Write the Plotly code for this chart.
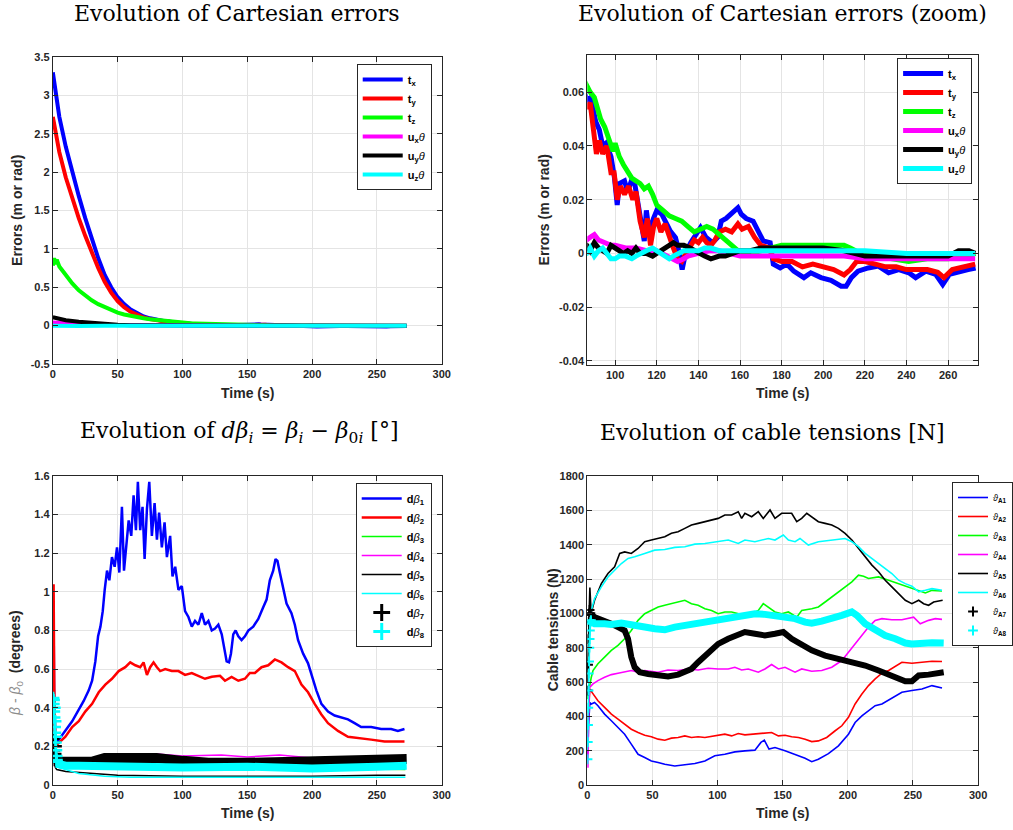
import plotly.graph_objects as go

# ---------------- data: Cartesian errors ----------------
TX_T = [0, 5, 10, 15, 20, 25, 30, 35, 40, 45, 50, 55, 60, 65, 70, 75, 80, 84,
        86.3, 88.3, 89.9, 90.7, 92.4, 94, 95.6, 97.2, 98, 99.7, 101, 102, 104.5, 106, 107.8, 109.4, 111,
        112.7, 114, 115, 116.4, 118.4, 120, 122.4, 124, 126.5, 129, 130.6, 132.2, 133.8, 136.3, 138.7,
        141, 143.6, 146.8, 149.3, 151, 153.3, 155.8, 159, 160.6, 163, 166.3, 168.8, 171.2, 174.5, 176,
        179.3, 182.6, 185.8, 190.7, 194, 198.9, 203.7, 208.6, 211, 213.5, 216.7, 221.6, 226.5, 231.4,
        236.3, 241.1, 244.4, 249.3, 254, 257.4, 260.6, 265.5, 269.6, 273.2]
TX_V = [3.30, 2.72, 2.33, 1.99, 1.69, 1.40, 1.12, 0.88, 0.66, 0.50, 0.37, 0.28, 0.21, 0.16, 0.12, 0.095, 0.075, 0.063,
        0.057, 0.058, 0.051, 0.049, 0.046, 0.040, 0.041, 0.038, 0.036, 0.028, 0.018, 0.026, 0.027, 0.023, 0.027,
        0.026, 0.018, 0.0096, 0.0046, 0.016, 0.0077, 0.013, 0.016, 0.0146, 0.012, 0.0083, 0.0059, 0.001, -0.006,
        0.0, 0.004, 0.0065, 0.0096, 0.006, 0.004, 0.006, 0.012, 0.013, 0.0146, 0.017, 0.0146, 0.013, 0.012,
        0.0083, 0.0046, 0.004, -0.004, -0.0054, -0.004, -0.0066, -0.009, -0.0072, -0.009, -0.010, -0.0122,
        -0.0122, -0.009, -0.0066, -0.0054, -0.0047, -0.0072, -0.006, -0.0072, -0.009, -0.0066, -0.0078,
        -0.0116, -0.0078, -0.0066, -0.006, -0.0054]

TY_T = [0, 5, 10, 15, 20, 25, 30, 35, 40, 45, 50, 55, 60, 65, 70, 75, 80, 84,
        86.3, 88, 89.5, 91, 92.4, 94, 96, 98, 99.5, 101, 102.5, 104.5, 106.5, 108.5, 110, 112, 114, 115.5,
        117, 118.5, 120, 122, 124, 126, 128, 130, 132, 134, 136, 138, 140, 142, 144, 146, 148, 150, 153,
        156, 159, 161, 164, 167, 170, 174, 176, 180, 185, 190, 195, 200, 205, 210, 213, 216, 220, 225, 230,
        235, 240, 245, 250, 255, 258, 262, 268, 273]
TY_V = [2.72, 2.26, 1.93, 1.65, 1.40, 1.17, 0.95, 0.75, 0.57, 0.43, 0.32, 0.24, 0.18, 0.14, 0.105, 0.085, 0.068, 0.058,
        0.054, 0.056, 0.047, 0.037, 0.042, 0.037, 0.040, 0.030, 0.030, 0.020, 0.025, 0.022, 0.025, 0.020, 0.023,
        0.012, 0.006, 0.013, 0.003, 0.010, 0.013, 0.008, 0.011, 0.006, 0.002, -0.002, -0.003, 0.0, 0.003, 0.005,
        0.004, 0.006, 0.004, 0.003, 0.005, 0.008, 0.009, 0.008, 0.011, 0.009, 0.010, 0.006, 0.003, 0.002, -0.002,
        -0.003, -0.003, -0.005, -0.004, -0.005, -0.006, -0.008, -0.006, -0.003, -0.003, -0.004, -0.005, -0.005,
        -0.006, -0.006, -0.006, -0.007, -0.009, -0.006, -0.005, -0.004]

TZ_T = [0, 1, 2, 3, 5, 10, 15, 20, 25, 30, 35, 40, 45, 50, 55, 60, 65, 70, 75, 80, 84,
        86.3, 88, 90, 91.5, 93, 95, 97, 99, 100, 102, 104, 106, 108, 110, 112, 114, 116, 118, 120, 123, 126,
        129, 132, 135, 138, 141, 144, 147, 150, 153, 156, 159, 162, 165, 170, 175, 180, 190, 200, 205, 210,
        213, 218, 225, 235, 241, 250, 260, 270, 273]
TZ_V = [0.78, 0.88, 0.80, 0.86, 0.77, 0.65, 0.55, 0.46, 0.39, 0.33, 0.28, 0.24, 0.20, 0.17, 0.145, 0.125, 0.11, 0.095,
        0.082, 0.072, 0.066,
        0.062, 0.060, 0.058, 0.054, 0.050, 0.047, 0.043, 0.038, 0.041, 0.036, 0.033, 0.030, 0.028, 0.027, 0.026,
        0.024, 0.025, 0.022, 0.018, 0.016, 0.014, 0.013, 0.012, 0.010, 0.008, 0.009, 0.010, 0.009, 0.007, 0.005,
        0.003, 0.001, 0.000, 0.000, 0.001, 0.002, 0.003, 0.003, 0.003, 0.003, 0.003, 0.002, 0.000, -0.001, -0.002,
        -0.003, -0.002, -0.002, -0.001, 0.000]

UX_T = [0, 10, 20, 30, 40, 50, 60, 70, 80, 86.3, 88, 90, 92, 95, 98, 100, 105, 110, 115, 120, 125, 128, 130, 133,
        135, 140, 145, 150, 155, 160, 170, 180, 190, 200, 210, 220, 230, 240, 250, 260, 273]
UX_V = [0.04, 0.03, 0.02, 0.015, 0.01, 0.008, 0.006, 0.005, 0.005, 0.005, 0.006, 0.007, 0.005, 0.004, 0.003, 0.003,
        0.002, 0.002, 0.001, 0.001, -0.001, -0.002, -0.003, -0.002, -0.001, 0.000, 0.001, 0.001, 0.000, -0.001,
        -0.001, -0.001, -0.001, -0.001, -0.001, -0.002, -0.002, -0.002, -0.002, -0.002, -0.002]

UY_T = [0, 2, 5, 10, 20, 30, 40, 50, 60, 70, 80, 86.3, 88, 90, 92, 94, 96, 98, 100, 102, 104, 106, 108, 110, 112,
        115, 118, 120, 122, 125, 128, 130, 133, 136, 138, 140, 143, 146, 150, 153, 156, 160, 165, 170, 180, 190,
        200, 210, 215, 220, 230, 240, 250, 260, 265, 270, 273]
UY_V = [0.11, 0.10, 0.09, 0.07, 0.05, 0.035, 0.02, 0.01, 0.006, 0.004, 0.003, 0.003, 0.001, 0.004, 0.002, 0.001,
        0.000, 0.003, 0.002, 0.001, 0.000, 0.001, 0.000, 0.002, 0.000, 0.000, -0.001, 0.000, 0.001, 0.003, 0.004,
        0.003, 0.003, 0.002, 0.001, 0.000, -0.001, -0.002, -0.001, -0.001, 0.000, 0.001, 0.001, 0.002, 0.002,
        0.002, 0.002, 0.001, 0.000, -0.001, -0.001, -0.001, -0.001, -0.001, 0.001, 0.001, 0.000]

UZ_T = [0, 10, 20, 40, 60, 80, 86.3, 88, 90, 92, 94, 96, 98, 100, 102, 105, 108, 110, 112, 115, 118, 120, 122, 124,
        126, 128, 130, 133, 136, 140, 143, 146, 150, 160, 180, 200, 220, 240, 260, 273]
UZ_V = [0.0, -0.005, -0.005, -0.003, -0.002, -0.001, 0.000, 0.002, -0.001, 0.001, 0.002, 0.000, -0.002, -0.002,
        -0.001, -0.001, -0.002, -0.001, 0.000, 0.001, 0.002, 0.001, 0.000, -0.001, -0.002, -0.001, 0.000, 0.001,
        0.001, 0.001, 0.002, 0.002, 0.001, 0.001, 0.001, 0.001, 0.001, 0.000, 0.000, 0.000]

# ---------------- data: d beta ----------------
B1_T = [0, 0.3, 0.6, 0.9, 1.3, 2.0, 4.6, 9.7, 14.9, 20, 23.8, 27.7, 30.3, 32.8, 34.9, 36.7, 38.5, 40, 41.8, 43.6,
        45.6, 47.7, 49.5, 51.3, 53.3, 54.9, 56.4, 58.5, 60.5, 62.3, 64.1, 65.6, 67.4, 69.2, 70.8, 72.6, 74.4,
        76.4, 78.5, 80.3, 82, 84.1, 86.2, 88, 90.5, 92.3, 94.4, 96.9, 99.5, 102, 104.6, 107.2, 109.7, 112.3,
        114.9, 117.4, 120, 122.6, 125.1, 127.7, 130.3, 132.3, 134.1, 135.9, 137.4, 139.2, 141, 143.1, 145.6,
        148.2, 150.8, 154.6, 158.5, 162.3, 164.9, 167.4, 170, 171.8, 173.3, 175.1, 177.7, 180.3, 184.1, 186.7,
        189.2, 193.1, 196.9, 199.5, 203.3, 207.2, 212.3, 217.4, 222.6, 227.7, 232.8, 237.9, 245.6, 253.3, 261,
        266.2, 271.3]
B1_V = [0.15, 0.5, 0.88, 0.5, 0.3, 0.22, 0.235, 0.28, 0.33, 0.39, 0.435, 0.49, 0.54, 0.64, 0.77, 0.82, 0.90, 1.01,
        1.11, 1.06, 1.18, 1.13, 1.23, 1.10, 1.44, 1.11, 1.23, 1.37, 1.29, 1.50, 1.32, 1.57, 1.32, 1.44, 1.17, 1.43,
        1.57, 1.29, 1.46, 1.27, 1.41, 1.23, 1.36, 1.18, 1.29, 1.08, 1.13, 1.01, 1.03, 0.90, 0.87, 0.82, 0.85, 0.83,
        0.89, 0.83, 0.85, 0.80, 0.81, 0.83, 0.78, 0.70, 0.64, 0.635, 0.68, 0.78, 0.80, 0.77, 0.75, 0.77, 0.80,
        0.82, 0.86, 0.92, 0.96, 1.06, 1.11, 1.17, 1.16, 1.10, 1.01, 0.94, 0.89, 0.83, 0.75, 0.68, 0.63, 0.57,
        0.49, 0.42, 0.38, 0.36, 0.35, 0.34, 0.32, 0.30, 0.30, 0.29, 0.29, 0.28, 0.29]

B2_T = [0, 0.3, 0.6, 0.9, 1.2, 1.6, 2.0, 3.3, 9.7, 14.9, 20, 25, 30.3, 35.4, 40.5, 45.6, 50.8, 55.9, 59.7, 63.6,
        67.4, 70, 72.6, 75.1, 77.7, 80.3, 82.8, 86.7, 91.8, 96.9, 102, 107.2, 112.3, 117.4, 122.6, 129, 132.8,
        137.9, 143.1, 148.2, 152, 155.9, 161, 166.2, 171.3, 176.4, 181.5, 186.7, 191.8, 196.9, 202, 207.2,
        212.3, 220, 227.7, 235.4, 245.6, 255.9, 263.6, 271.3]
B2_V = [0.15, 0.6, 1.04, 0.7, 0.45, 0.3, 0.22, 0.21, 0.25, 0.30, 0.33, 0.38, 0.42, 0.48, 0.52, 0.55, 0.59, 0.61,
        0.635, 0.62, 0.61, 0.635, 0.57, 0.61, 0.635, 0.61, 0.59, 0.60, 0.59, 0.59, 0.57, 0.58, 0.565, 0.55, 0.56,
        0.565, 0.54, 0.56, 0.54, 0.55, 0.58, 0.58, 0.61, 0.62, 0.65, 0.635, 0.61, 0.59, 0.52, 0.48, 0.42, 0.365,
        0.32, 0.28, 0.25, 0.245, 0.235, 0.225, 0.225, 0.225]

B3_T = [0, 1, 2, 3, 10, 30, 60, 100, 150, 200, 250, 272]
B3_V = [0.2, 0.18, 0.15, 0.13, 0.11, 0.10, 0.095, 0.09, 0.09, 0.085, 0.08, 0.08]
B4_T = [0, 1, 2, 3, 10, 30, 50, 60, 80, 100, 130, 150, 175, 200, 230, 272]
B4_V = [0.2, 0.18, 0.16, 0.14, 0.14, 0.14, 0.15, 0.16, 0.16, 0.15, 0.155, 0.145, 0.155, 0.14, 0.14, 0.14]
B5_T = [0, 1, 2, 3, 10, 20, 30, 50, 100, 150, 200, 250, 272]
B5_V = [0.2, 0.12, 0.09, 0.08, 0.07, 0.065, 0.058, 0.05, 0.045, 0.045, 0.045, 0.05, 0.05]
B6_T = [0, 1, 2, 5, 20, 40, 60, 100, 200, 272]
B6_V = [0.2, 0.14, 0.11, 0.09, 0.06, 0.045, 0.04, 0.04, 0.04, 0.04]
B7_T = [3, 20, 30, 40, 60, 80, 100, 120, 150, 180, 200, 230, 250, 273]
B7_V = [0.12, 0.115, 0.12, 0.14, 0.14, 0.14, 0.125, 0.115, 0.115, 0.12, 0.125, 0.13, 0.135, 0.135]
B7_START_T = [0.3, 0.6, 0.9, 1.2, 1.5, 1.8, 2.1, 2.4, 2.7]
B7_START_V = [0.24, 0.22, 0.18, 0.15, 0.13, 0.16, 0.20, 0.14, 0.12]
B8_T = [3, 10, 20, 50, 100, 150, 200, 250, 273]
B8_V = [0.11, 0.10, 0.10, 0.095, 0.09, 0.095, 0.085, 0.095, 0.10]
B8_START_T = [0.2, 0.4, 0.6, 0.8, 1.0, 1.2, 1.4, 1.6, 1.8, 2.0, 2.2, 2.4, 2.6, 2.8, 3.0]
B8_START_V = [0.45, 0.42, 0.44, 0.38, 0.35, 0.40, 0.30, 0.27, 0.33, 0.22, 0.25, 0.18, 0.15, 0.13, 0.12]

# ---------------- data: cable tensions ----------------
A1_T = [0, 0.5, 1, 2, 3.1, 5.6, 8.2, 13.3, 18.5, 23.6, 28.7, 33.8, 39, 44.1, 49.2, 54.4, 59.5, 67.2, 74.9, 82.6,
        90.3, 97.9, 105.6, 113.3, 121, 128.7, 133.3, 135.9, 139.5, 144.1, 151.8, 159.5, 167.2, 172.3, 177.4,
        185.1, 192.8, 200.5, 205.6, 210.8, 215.9, 221, 226.2, 231.3, 236.4, 241.5, 249.2, 256.9, 264.6, 272.3]
A1_V = [150, 200, 350, 480, 472, 481, 462, 413, 374, 335, 296, 238, 179, 160, 140, 131, 121, 111, 117, 125, 140,
        170, 179, 193, 199, 203, 248, 261, 209, 218, 199, 179, 156, 136, 150, 183, 228, 296, 364, 403, 433, 462,
        472, 495, 520, 540, 550, 559, 579, 565]
A2_T = [0, 1, 2, 3.1, 4.4, 8.2, 13.3, 18.5, 23.6, 28.7, 33.8, 39, 44.1, 49.2, 54.4, 59.5, 64.6, 69.7, 74.9, 80,
        85.1, 90.3, 95.4, 100.5, 105.6, 110.8, 115.9, 121, 126.2, 131.3, 136.4, 141.5, 146.7, 151.8, 156.9,
        162.1, 167.2, 172.3, 177.4, 183.8, 190.3, 195.4, 200.5, 205.6, 210.8, 215.9, 221, 226.2, 231.3, 236.4,
        241.5, 249.2, 256.9, 264.6, 272.3]
A2_V = [300, 450, 560, 545, 530, 491, 452, 413, 384, 355, 325, 306, 290, 281, 267, 261, 273, 277, 286, 277, 281,
        277, 283, 286, 296, 286, 300, 292, 296, 300, 304, 306, 286, 290, 281, 277, 267, 253, 257, 277, 316, 345,
        394, 472, 530, 579, 618, 651, 667, 690, 715, 709, 715, 721, 719]
A3_T = [0, 1, 2, 3.1, 4.4, 8.2, 13.3, 18.5, 23.6, 28.7, 33.8, 39, 44.1, 49.2, 54.4, 59.5, 64.6, 69.7, 74.9, 80,
        85.1, 90.3, 95.4, 100.5, 105.6, 110.8, 115.9, 121, 126.2, 131.3, 135.1, 139, 144.1, 149.2, 154.4, 160.8,
        164.6, 172.3, 177.4, 182.6, 187.7, 192.8, 197.9, 203.1, 208.2, 212.1, 215.9, 223.6, 231.3, 239, 246.7,
        254.4, 259.5, 264.6, 272.3]
A3_V = [500, 550, 600, 628, 667, 706, 745, 784, 813, 852, 900, 959, 998, 1017, 1037, 1047, 1056, 1066, 1076, 1056,
        1047, 1027, 1017, 998, 1008, 1008, 998, 988, 998, 1017, 1056, 1037, 1008, 998, 1008, 978, 1017, 1027,
        1037, 1066, 1095, 1125, 1154, 1183, 1222, 1216, 1203, 1212, 1193, 1173, 1154, 1134, 1119, 1134, 1130]
A4_T = [0, 0.5, 1, 1.8, 4.4, 8.2, 13.3, 18.5, 23.6, 28.7, 33.8, 39, 44.1, 54.4, 62, 69.7, 77.4, 85.1, 92.8, 100.5,
        108.2, 113.3, 118.5, 123.6, 131.3, 136.4, 141.5, 146.7, 151.8, 159.5, 164.6, 172.3, 180, 187.7, 195.4,
        200.5, 205.6, 210.8, 215.9, 221, 226.2, 233.8, 241.5, 250.5, 255.6, 262, 267.2, 272.3]
A4_V = [300, 100, 400, 569, 589, 608, 628, 643, 651, 657, 667, 657, 667, 657, 670, 667, 676, 670, 680, 676, 676,
        686, 670, 676, 657, 676, 702, 676, 686, 657, 676, 663, 667, 686, 725, 774, 822, 871, 920, 959, 969, 963,
        963, 978, 939, 959, 969, 965]
A5_T = [0, 1, 2, 3, 5.6, 10.8, 15.9, 21, 24.9, 28.7, 33.8, 39, 44.1, 49.2, 54.4, 59.5, 64.6, 69.7, 74.9, 80, 85.1,
        90.3, 95.4, 100.5, 105.6, 110.8, 115.9, 118.5, 121, 126.2, 131.3, 135.1, 140.3, 144.1, 149.2, 156.9,
        160.8, 164.6, 168.5, 172.3, 177.4, 182.6, 187.7, 192.8, 197.9, 203.1, 208.2, 213.3, 218.5, 223.6, 228.7,
        233.8, 239, 244.1, 249.2, 254.4, 258.2, 262, 265.9, 269.7, 272.8]
A5_V = [600, 900, 1150, 1000, 1076, 1173, 1232, 1271, 1349, 1358, 1349, 1378, 1417, 1427, 1436, 1446, 1466, 1475,
        1495, 1514, 1524, 1534, 1544, 1553, 1573, 1573, 1592, 1553, 1583, 1563, 1592, 1553, 1602, 1553, 1583,
        1583, 1534, 1553, 1583, 1563, 1534, 1524, 1514, 1495, 1466, 1427, 1378, 1329, 1281, 1242, 1193, 1154,
        1115, 1076, 1056, 1076, 1056, 1047, 1066, 1072, 1076]
A6_T = [0, 1, 2, 3.1, 5.6, 10.8, 15.9, 21, 26.2, 31.3, 36.4, 44.1, 51.8, 59.5, 67.2, 74.9, 82.6, 90.3, 100.5,
        108.2, 115.9, 121, 128.7, 135.1, 139, 144.1, 150.5, 154.4, 159.5, 163.3, 169.7, 177.4, 187.7, 197.9,
        203.1, 208.2, 213.3, 218.5, 223.6, 228.7, 233.8, 239, 244.1, 249.2, 254.4, 259.5, 264.6, 272.3]
A6_V = [200, 600, 900, 1017, 1086, 1154, 1212, 1251, 1290, 1320, 1329, 1349, 1368, 1372, 1384, 1388, 1403, 1407,
        1417, 1427, 1407, 1427, 1417, 1427, 1436, 1427, 1456, 1427, 1417, 1436, 1398, 1417, 1427, 1436, 1417,
        1388, 1349, 1320, 1290, 1261, 1232, 1193, 1173, 1158, 1125, 1134, 1144, 1134]
A7_T = [3, 5.6, 13.3, 18.5, 23.6, 28.7, 31.3, 33.8, 36.4, 40.3, 46.7, 54.4, 62, 69.7, 74.9, 80, 85.1, 90.3, 95.4,
        100.5, 108.2, 115.9, 121, 128.7, 136.4, 144.1, 150.5, 156.9, 164.6, 172.3, 182.6, 192.8, 203.1, 213.3,
        223.6, 233.8, 244.1, 249.2, 254.4, 262, 267.2, 273.6]
A7_V = [985, 978, 949, 939, 920, 900, 852, 745, 686, 657, 647, 643, 632, 643, 657, 676, 715, 754, 793, 822, 852,
        881, 891, 881, 871, 881, 891, 852, 813, 784, 754, 735, 715, 696, 667, 632, 604, 604, 638, 643, 651, 657]
A7_START_T = [0.3, 0.6, 0.9, 1.2, 1.5, 1.8, 2.1, 2.4, 2.7]
A7_START_V = [550, 700, 850, 950, 1000, 1020, 990, 1000, 990]
A8_T = [3, 5.6, 13.3, 18.5, 26.2, 33.8, 44.1, 51.8, 59.5, 67.2, 74.9, 82.6, 90.3, 97.9, 105.6, 113.3, 121, 128.7,
        136.4, 144.1, 151.8, 159.5, 167.2, 172.3, 180, 187.7, 195.4, 203.1, 207, 213.3, 221, 228.7, 236.4, 244.1,
        249.2, 256.9, 264.6, 273.6]
A8_V = [950, 939, 939, 935, 943, 930, 920, 910, 904, 920, 930, 939, 949, 959, 978, 978, 988, 998, 994, 988, 978,
        969, 949, 943, 955, 969, 988, 1008, 988, 939, 900, 871, 852, 827, 822, 827, 829, 827]
A8_START_T = [0.2, 0.4, 0.6, 0.8, 1.0, 1.2, 1.4, 1.6, 1.8, 2.0, 2.2, 2.5, 2.8]
A8_START_V = [150, 250, 350, 450, 550, 650, 720, 800, 850, 900, 940, 950, 960]

# ---------------- labels ----------------
ERR_NAMES = ["<b>t<sub>x</sub></b>", "<b>t<sub>y</sub></b>", "<b>t<sub>z</sub></b>",
             "<b>u<sub>x</sub></b><i>θ</i>", "<b>u<sub>y</sub></b><i>θ</i>", "<b>u<sub>z</sub></b><i>θ</i>"]
BETA_NAMES = ["<b>d</b><i>β</i><b><sub>%d</sub></b>" % i for i in range(1, 9)]
TENS_NAMES = ["<i>ϑ</i><b><sub>A%d</sub></b>" % i for i in range(1, 9)]
TITLES = ["Evolution of Cartesian errors", "Evolution of Cartesian errors (zoom)",
          "Evolution of <i>dβ<sub>i</sub></i> = <i>β<sub>i</sub></i> − <i>β</i><sub>0<i>i</i></sub> [°]",
          "Evolution of cable tensions [N]"]

BLUE, RED, GREEN, MAG, BLACK, CYAN = "#0000ff", "#ff0000", "#00ff00", "#ff00ff", "#000000", "#00ffff"
W, H = 1013, 830
FONT = "Liberation Sans"
SERIF = "DejaVu Serif"
AX = "#262626"

fig = go.Figure()


def add_line(x, y, color, width, xa, ya, name=None, legend=None, show=False):
    fig.add_trace(go.Scatter(x=x, y=y, mode="lines", line=dict(color=color, width=width),
                             name=name, legend=legend, showlegend=show, xaxis=xa, yaxis=ya,
                             hoverinfo="skip"))


def add_marks(x, y, color, size, lw, xa, ya, name=None, legend=None, show=False):
    fig.add_trace(go.Scatter(x=x, y=y, mode="markers",
                             marker=dict(symbol="cross-thin", size=size, color=color,
                                         line=dict(color=color, width=lw)),
                             name=name, legend=legend, showlegend=show, xaxis=xa, yaxis=ya,
                             hoverinfo="skip"))


# top-left and top-right
err_series = [(TX_T, TX_V, BLUE), (TY_T, TY_V, RED), (TZ_T, TZ_V, GREEN),
              (UX_T, UX_V, MAG), (UY_T, UY_V, BLACK), (UZ_T, UZ_V, CYAN)]
for (t, v, c), nm in zip(err_series, ERR_NAMES):
    add_line(t, v, c, 4, "x", "y", nm, "legend", True)
for (t, v, c), nm in zip(err_series, ERR_NAMES):
    add_line(t, v, c, 5, "x2", "y2", nm, "legend2", True)

# bottom-left
beta_lines = [(B1_T, B1_V, BLUE, 2.5), (B2_T, B2_V, RED, 2.5), (B3_T, B3_V, GREEN, 1.5),
              (B4_T, B4_V, MAG, 1.5), (B5_T, B5_V, BLACK, 1.5), (B6_T, B6_V, CYAN, 1.5)]
for (t, v, c, w), nm in zip(beta_lines, BETA_NAMES[:6]):
    add_line(t, v, c, w, "x3", "y3", nm, "legend3", True)
add_line(B7_T, B7_V, BLACK, 10, "x3", "y3")
add_marks(B7_START_T, B7_START_V, BLACK, 9, 2.5, "x3", "y3")
add_marks([None], [None], BLACK, 12, 3, "x3", "y3", BETA_NAMES[6], "legend3", True)
add_line(B8_T, B8_V, CYAN, 8, "x3", "y3")
add_marks(B8_START_T, B8_START_V, CYAN, 9, 2.5, "x3", "y3")
add_marks([None], [None], CYAN, 12, 3, "x3", "y3", BETA_NAMES[7], "legend3", True)

# bottom-right
tens_lines = [(A1_T, A1_V, BLUE), (A2_T, A2_V, RED), (A3_T, A3_V, GREEN),
              (A4_T, A4_V, MAG), (A5_T, A5_V, BLACK), (A6_T, A6_V, CYAN)]
for (t, v, c), nm in zip(tens_lines, TENS_NAMES[:6]):
    add_line(t, v, c, 1.6, "x4", "y4", nm, "legend4", True)
add_line(A7_T, A7_V, BLACK, 6, "x4", "y4")
add_marks(A7_START_T, A7_START_V, BLACK, 7, 2, "x4", "y4")
add_marks([None], [None], BLACK, 7, 2, "x4", "y4", TENS_NAMES[6], "legend4", True)
add_line(A8_T, A8_V, CYAN, 7, "x4", "y4")
add_marks(A8_START_T, A8_START_V, CYAN, 7, 2, "x4", "y4")
add_marks([None], [None], CYAN, 7, 2, "x4", "y4", TENS_NAMES[7], "legend4", True)


def px(p):
    return p / W


def py(p):
    return 1 - p / H


def dom_x(a, b):
    return [px(a), px(b)]


def dom_y(top, bottom):
    return [py(bottom), py(top)]


def axis(rng, vals, texts, domain, anchor):
    return dict(range=rng, domain=domain, anchor=anchor, tickmode="array", tickvals=vals, ticktext=texts,
                showline=True, linecolor=AX, linewidth=1, mirror="ticks", ticks="inside", ticklen=5,
                tickwidth=1, tickcolor=AX, showgrid=True, gridcolor="#e4e4e4", gridwidth=1, zeroline=False,
                tickfont=dict(family=FONT, size=11, color=AX, weight="bold"), automargin=False,
                fixedrange=True)


X300 = [0, 50, 100, 150, 200, 250, 300]
X300T = ["0", "50", "100", "150", "200", "250", "300"]
XZ = [100, 120, 140, 160, 180, 200, 220, 240, 260]
XZT = [str(v) for v in XZ]
YTL = [-0.5, 0, 0.5, 1, 1.5, 2, 2.5, 3, 3.5]
YTLT = ["-0.5", "0", "0.5", "1", "1.5", "2", "2.5", "3", "3.5"]
YTR = [-0.04, -0.02, 0, 0.02, 0.04, 0.06]
YTRT = ["-0.04", "-0.02", "0", "0.02", "0.04", "0.06"]
YBL = [0, 0.2, 0.4, 0.6, 0.8, 1, 1.2, 1.4, 1.6]
YBLT = ["0", "0.2", "0.4", "0.6", "0.8", "1", "1.2", "1.4", "1.6"]
YBR = [0, 200, 400, 600, 800, 1000, 1200, 1400, 1600, 1800]
YBRT = [str(v) for v in YBR]

LX, RX = (53, 443), (589, 981)
TOPY, BOTY = (57, 364), (476, 785)

legend_common = dict(bgcolor="white", bordercolor=AX, borderwidth=1, itemwidth=40, tracegroupgap=0,
                     font=dict(family=FONT, size=11, color="black"), itemclick=False, itemdoubleclick=False)

fig.update_layout(
    width=W, height=H, margin=dict(l=0, r=0, t=0, b=0), paper_bgcolor="white", plot_bgcolor="white",
    xaxis=axis([0, 300], X300, X300T, dom_x(*LX), "y"),
    yaxis=axis([-0.5, 3.5], YTL, YTLT, dom_y(*TOPY), "x"),
    xaxis2=axis([86.6, 274.4], XZ, XZT, dom_x(*RX), "y2"),
    yaxis2=axis([-0.0415, 0.0738], YTR, YTRT, dom_y(55, 365), "x2"),
    xaxis3=axis([0, 300], X300, X300T, dom_x(*LX), "y3"),
    yaxis3=axis([0, 1.6], YBL, YBLT, dom_y(*BOTY), "x3"),
    xaxis4=axis([0, 300], X300, X300T, dom_x(*RX), "y4"),
    yaxis4=axis([0, 1800], YBR, YBRT, dom_y(*BOTY), "x4"),
    legend=dict(legend_common, x=px(433), y=py(64), xanchor="right", yanchor="top"),
    legend2=dict(legend_common, x=px(975), y=py(58), xanchor="right", yanchor="top"),
    legend3=dict(legend_common, x=px(433), y=py(483), xanchor="right", yanchor="top"),
    legend4=dict(legend_common, x=px(955), y=py(482), xanchor="left", yanchor="top", itemwidth=30,
                 font=dict(family=FONT, size=9, color="black")),
    showlegend=True,
)

ann = []
for txt, cx, cy in zip(TITLES, [238, 785, 240, 775], [13, 13, 432, 432]):
    ann.append(dict(text=txt, x=px(cx), y=py(cy), xref="paper", yref="paper", showarrow=False,
                    xanchor="center", yanchor="middle", font=dict(family=SERIF, size=22, color="black")))
axfont = dict(family=FONT, size=14, color=AX, weight="bold")
for txt, cx, cy, ang in [("Time (s)", 248, 393, 0), ("Time (s)", 785, 393, 0),
                         ("Time (s)", 248, 813, 0), ("Time (s)", 785, 813, 0),
                         ("Errors (m or rad)", 17, 210, -90), ("Errors (m or rad)", 546, 210, -90),
                         ("<span style='color:#8c8c8c;font-weight:normal'><i>β</i> - <i>β</i><sub>0</sub></span>  (degrees)",
                          16, 663, -90),
                         ("Cable tensions (N)", 555, 630, -90)]:
    ann.append(dict(text=txt, x=px(cx), y=py(cy), xref="paper", yref="paper", showarrow=False,
                    xanchor="center", yanchor="middle", textangle=ang, font=axfont))
fig.update_layout(annotations=ann)

# the page's default 8 px body margin would push the 1013x830 figure off the window
fig.write_html("out.html", config={"displayModeBar": False},
               post_script="document.body.style.margin='0px';")
